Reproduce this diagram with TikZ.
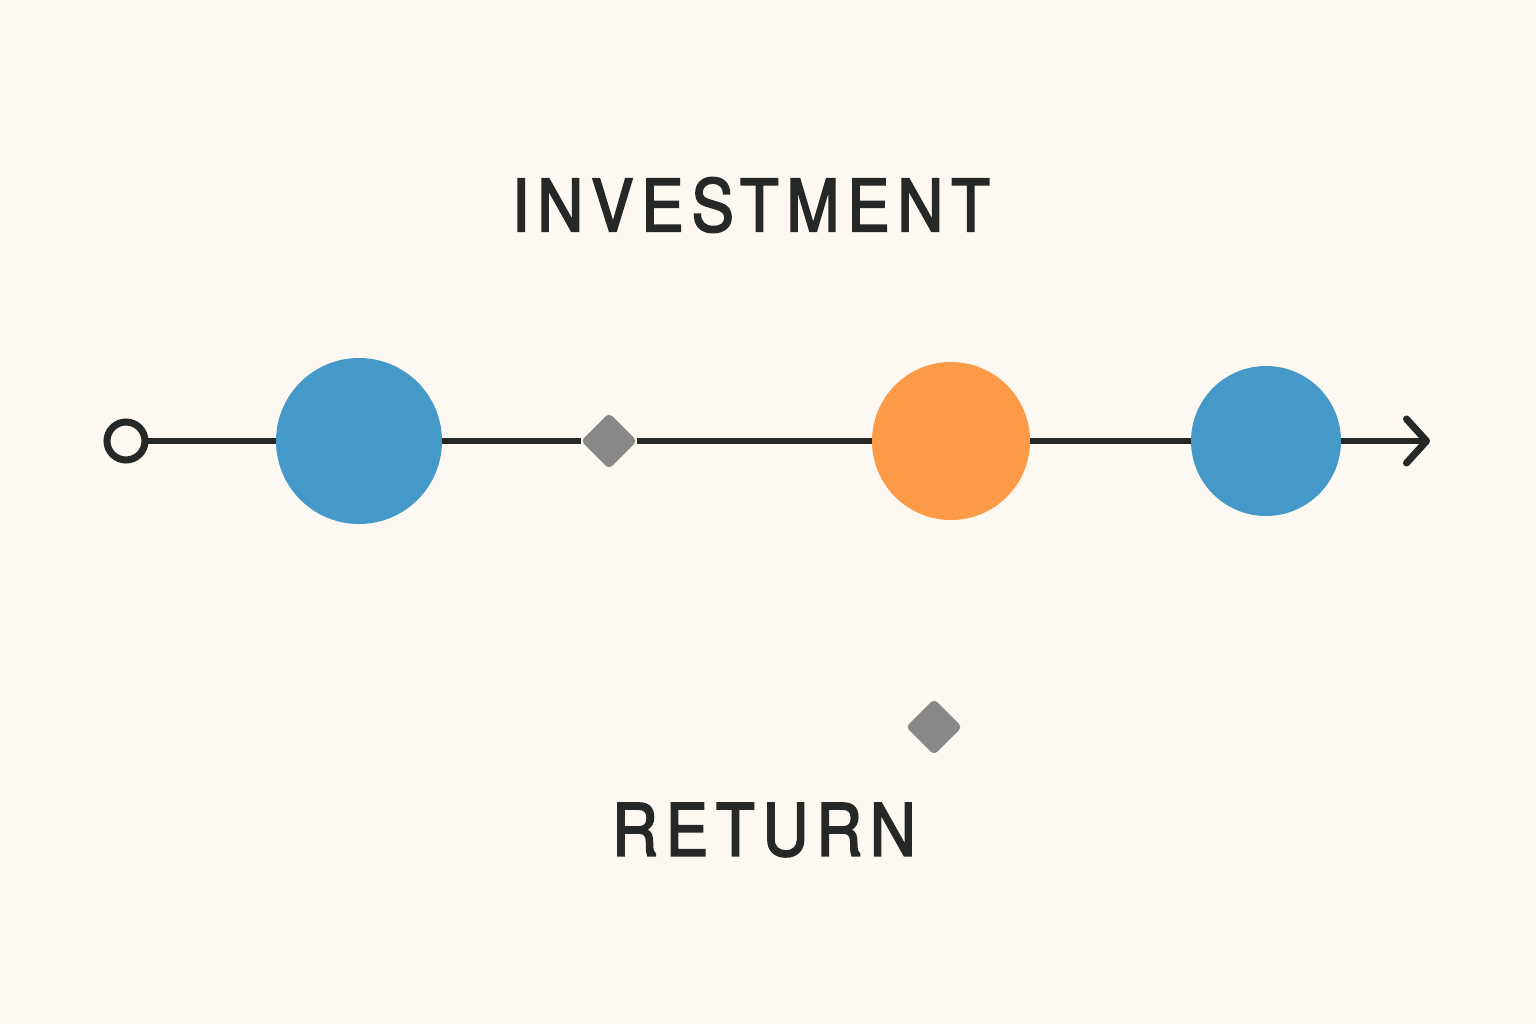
\documentclass[tikz,border=0pt]{standalone}
\usepackage{fontspec}
\setmainfont{TeX Gyre Heros}
\usepackage{tikz}
\usetikzlibrary{shapes.geometric, arrows.meta, positioning}
\definecolor{paper}{HTML}{FDF9F2}
\definecolor{ink}{HTML}{262828}
\definecolor{bblue}{HTML}{4499C9}
\definecolor{borange}{HTML}{FC9A47}
\definecolor{mgray}{HTML}{888888}
\tikzstyle{line} = [ink, line width=1.75pt]
\tikzstyle{bigdot} = [circle, inner sep=0pt, outer sep=0pt]
\tikzstyle{gem} = [diamond, fill=mgray, inner sep=0pt, outer sep=0pt, minimum size=0.56cm, rounded corners=1.2pt]
\tikzstyle{title} = [font=\fontsize{20.5}{24}\selectfont\addfontfeatures{FakeBold=2.5, FakeStretch=0.88, LetterSpace=11}, text=ink, inner sep=0pt]

\begin{document}
\begin{tikzpicture}[>=stealth]
            \fill[paper] (0,0) rectangle (15.36,10.24);
            \useasboundingbox (0,0) rectangle (15.36,10.24);
            % points on the line
            \node[circle, draw=ink, line width=2pt, fill=paper, minimum size=0.38cm, inner sep=0pt, outer sep=0pt] (start) at (1.26,5.83) {};
            \node[bigdot, fill=bblue, minimum size=1.66cm, right=1.31cm of start] (inv1) {};
            \node[gem, right=1.39cm of inv1] (risk1) {};
            \node[bigdot, fill=borange, minimum size=1.58cm, right=2.35cm of risk1] (gain) {};
            \node[bigdot, fill=bblue, minimum size=1.50cm, right=1.61cm of gain] (inv2) {};
            \coordinate (end) at (14.30,5.83);

            % the time line
            \draw[line] (start) -- (inv1);
            \draw[line] (inv1) -- (risk1);
            \draw[line] (risk1) -- (gain);
            \draw[line] (gain) -- (inv2);
            \draw[line, -{Straight Barb[length=0.2cm, width=0.44cm, line width=2pt, round]}] (inv2) -- (end);

            % lone marker and labels
            \node[title] (invest) at (7.51,8.19) {INVESTMENT};
            \node[gem] (risk2) at (9.34,2.97) {};
            \node[title] (ret) at (7.64,1.94) {RETURN};
\end{tikzpicture}
\end{document}
